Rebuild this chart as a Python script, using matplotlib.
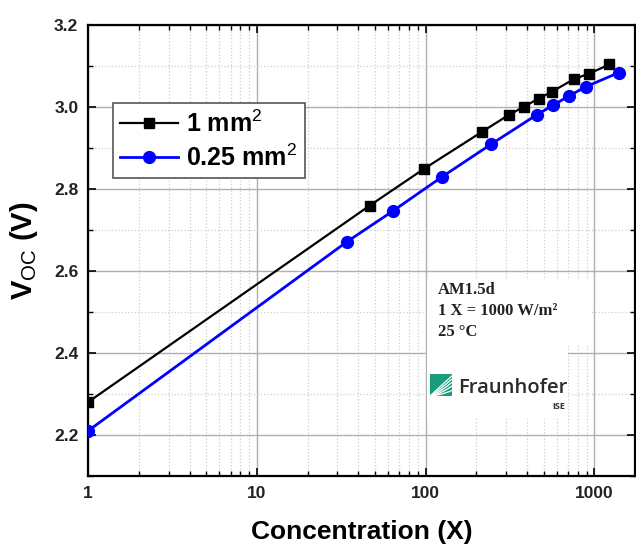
import matplotlib
matplotlib.use('Agg')
import matplotlib.pyplot as plt
from matplotlib.patches import Rectangle
from matplotlib.ticker import LogLocator, MultipleLocator, FixedLocator, NullFormatter
import numpy as np

# data
conc_1mm = [1, 46.6, 97.3, 216, 311, 382, 468, 562, 754, 934, 1227]
voc_1mm = [2.28, 2.759, 2.848, 2.939, 2.980, 3.000, 3.020, 3.037, 3.067, 3.081, 3.103]
conc_025 = [1, 34.2, 64.1, 125, 243, 458, 572, 705, 893, 1393]
voc_025 = [2.21, 2.671, 2.746, 2.829, 2.908, 2.981, 3.004, 3.026, 3.049, 3.083]

x_ticks = [1, 10, 100, 1000]
x_ticklabels = ['1', '10', '100', '1000']
y_ticks = [2.2, 2.4, 2.6, 2.8, 3.0, 3.2]

plt.rcParams['font.family'] = ['Liberation Sans', 'DejaVu Sans']
plt.rcParams['mathtext.fontset'] = 'custom'
plt.rcParams['mathtext.rm'] = 'Liberation Sans'
plt.rcParams['mathtext.bf'] = 'Liberation Sans:bold'

fig = plt.figure(figsize=(6.36, 5.46), dpi=100)
ax = fig.add_axes([0.1384, 0.1282, 0.860, 0.8266])

ax.plot(conc_1mm, voc_1mm, color='black', lw=1.6, marker='s', ms=7.5,
        label='1 mm$^{2}$', zorder=5)
ax.plot(conc_025, voc_025, color='#0000ff', lw=2.0, marker='o', ms=8.5,
        label='0.25 mm$^{2}$', zorder=5)

ax.set_xscale('log')
ax.set_xlim(1, 1740)
ax.set_ylim(2.1, 3.2)

ax.xaxis.set_major_locator(FixedLocator(x_ticks))
ax.set_xticklabels(x_ticklabels)
ax.xaxis.set_minor_locator(LogLocator(base=10, subs=np.arange(2, 10)))
ax.xaxis.set_minor_formatter(NullFormatter())
ax.yaxis.set_major_locator(FixedLocator(y_ticks))
ax.yaxis.set_minor_locator(MultipleLocator(0.1))
ax.set_yticklabels([f'{v:.1f}' for v in y_ticks])

ax.tick_params(which='major', direction='in', length=6, width=1.2,
               top=True, right=True, labelsize=12.5, pad=7)
ax.tick_params(which='minor', direction='in', length=3.5, width=1,
               top=True, right=True)
for lab in ax.get_xticklabels() + ax.get_yticklabels():
    lab.set_fontweight('bold')
    lab.set_color('#222222')

ax.grid(which='major', color='#b0b0b0', lw=1.0, ls='-')
ax.grid(which='minor', color='#cfcfcf', lw=0.9, ls=':')
ax.set_axisbelow(True)
for sp in ax.spines.values():
    sp.set_linewidth(1.6)

ax.set_xlabel('Concentration (X)', fontsize=19, fontweight='bold', labelpad=14)
ax.set_ylabel(r'$\mathbf{V}_{\mathrm{OC}}$ (V)', fontsize=21, fontweight='bold', labelpad=10)

leg = ax.legend(loc='upper left', bbox_to_anchor=(0.045, 0.827), borderaxespad=0,
                fancybox=False, framealpha=1, edgecolor='#555555',
                prop={'size': 18, 'weight': 'bold'}, handlelength=2.3,
                handletextpad=0.35, borderpad=0.3, labelspacing=0.3)
leg.get_frame().set_linewidth(1.2)


# pixel -> axes fraction helpers (reference pixels)
def axx(px):
    return (px - 88) / 547


def axy(py):
    return (476 - py) / 451.3


# white patches behind the note and logo
ax.add_patch(Rectangle((axx(427), axy(345)), axx(592) - axx(427), axy(280) - axy(345),
                       transform=ax.transAxes, facecolor='white', edgecolor='none', zorder=1))
ax.add_patch(Rectangle((axx(427), axy(418)), axx(568) - axx(427), axy(345) - axy(418),
                       transform=ax.transAxes, facecolor='white', edgecolor='none', zorder=1))

ax.text(axx(438), axy(282), 'AM1.5d\n1 X = 1000 W/m²\n25 °C', transform=ax.transAxes,
        ha='left', va='top', fontsize=12, fontweight='bold', linespacing=1.4,
        family=['Liberation Serif', 'DejaVu Serif'], color='#222222', zorder=6)

# Fraunhofer logo
gx0, gx1, gy0, gy1 = axx(430), axx(452), axy(396), axy(374)
ax.add_patch(Rectangle((gx0, gy0), gx1 - gx0, gy1 - gy0, transform=ax.transAxes,
                       facecolor='#179c7d', edgecolor='none', zorder=6))
for k, f in enumerate([0.25, 0.45, 0.62, 0.78, 0.92]):
    t = np.linspace(0, 1, 20)
    xs = gx0 + (gx1 - gx0) * t
    ys = gy0 + (gy1 - gy0) * (f * t ** (1.6 - 0.15 * k))
    ax.plot(xs, ys, transform=ax.transAxes, color='white', lw=0.9, zorder=7,
            solid_capstyle='butt')
ax.text(axx(458), axy(388), 'Fraunhofer', transform=ax.transAxes, ha='left', va='center',
        fontsize=14.5, fontweight='semibold', family=['Open Sans', 'DejaVu Sans'],
        color='#2a2a2a', zorder=7)
ax.text(axx(565), axy(407), 'ISE', transform=ax.transAxes, ha='right', va='center',
        fontsize=6.5, fontweight='bold', family=['Open Sans', 'DejaVu Sans'],
        color='#333333', zorder=7)

plt.savefig('out.png', dpi=100)
